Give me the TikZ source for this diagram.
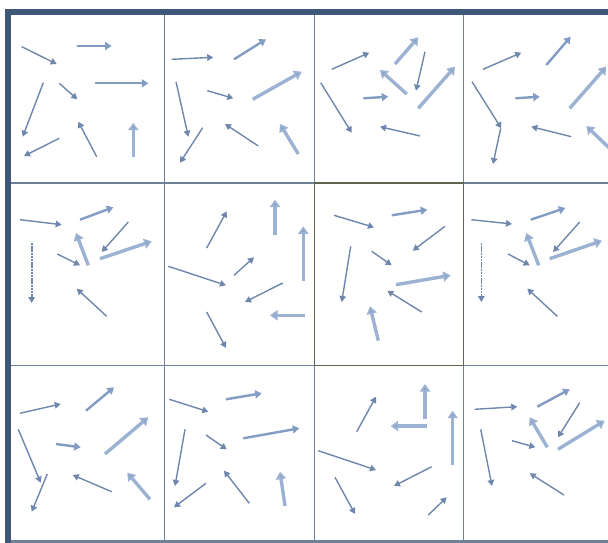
\documentclass[tikz,border=0pt]{standalone}
\usetikzlibrary{arrows.meta}
\definecolor{thincol}{HTML}{6F87AC}
\definecolor{medcol}{HTML}{829CC3}
\definecolor{thickcol}{HTML}{9CB2D2}
\definecolor{gridcol}{HTML}{6E8196}
\definecolor{framecol}{HTML}{3F5878}
\definecolor{centercol}{HTML}{5E6650}
\tikzset{
  thinarr/.style={draw=thincol, line width=1.4pt, -{Triangle[length=6pt,width=6.5pt]}},
  medarr/.style={draw=medcol, line width=2.4pt, -{Triangle[length=6.5pt,width=8pt]}},
  thickarr/.style={draw=thickcol, line width=3.4pt, -{Triangle[length=7.5pt,width=10pt,fill=medcol]}},
  dotarr/.style={thinarr, line width=1.6pt, dash pattern=on 2.4pt off 0.8pt},
  gridline/.style={draw=gridcol, line width=1.9pt},
  frameline/.style={draw=framecol, line width=6pt},
}
\begin{document}
\begin{tikzpicture}[x=1pt,y=-1pt]
\useasboundingbox (0,0) rectangle (608,543);
\fill[white] (0,0) rectangle (608,543);
% grid
\draw[gridline] (164.5,12) -- (164.5,541);
\draw[gridline] (314.5,12) -- (314.5,541);
\draw[gridline] (463.5,12) -- (463.5,541);
\draw[gridline] (8,183) -- (608,183);
\draw[gridline] (8,365.5) -- (608,365.5);
\draw[draw=gridcol, line width=3pt] (8,541) -- (608,541);
\draw[draw=centercol, line width=1.6pt] (314.5,183) rectangle (463.5,365.5);
\draw[frameline] (8,543) -- (8,12) -- (608,12);
% cell 1
\draw[thinarr] (21.7,46.7) -- (56.7,64);
\draw[medarr] (76.7,46) -- (111.7,46);
\draw[medarr] (95,83.3) -- (148.3,83.3);
\draw[thinarr] (59.3,83.3) -- (77.3,99.3);
\draw[thinarr] (43.3,82.7) -- (22.7,136.7);
\draw[thinarr] (59.3,138.3) -- (24,156);
\draw[thinarr] (96.7,156.7) -- (78.3,121.7);
\draw[thickarr] (133.3,156.7) -- (133.3,122.7);
% cell 2
\draw[thinarr] (171.7,59.3) -- (213.3,57.3);
\draw[medarr] (234,59.3) -- (266,39.3);
\draw[thickarr] (252.7,99.3) -- (301.7,71.7);
\draw[thinarr] (207.3,90.7) -- (233.3,98.3);
\draw[thinarr] (176,81.7) -- (188.3,136.7);
\draw[thinarr] (202.7,127.7) -- (180,162.7);
\draw[thinarr] (258.3,146) -- (225,124);
\draw[thickarr] (298.3,154) -- (280,124);
% cell 3
\draw[thinarr] (331.7,69.3) -- (369.3,52.7);
\draw[thickarr] (395,64) -- (418.3,37.3);
\draw[thinarr] (425,51.7) -- (416,90.7);
\draw[thickarr] (406.7,94) -- (380,70);
\draw[thickarr] (418.3,108.3) -- (455,66.7);
\draw[medarr] (363.3,98.3) -- (388.3,96.7);
\draw[thinarr] (320.7,82.7) -- (351.7,132.7);
\draw[thinarr] (420,136) -- (380,126.7);
% cell 4
\draw[thinarr] (483,69.3) -- (521.3,52.7);
\draw[medarr] (546.3,65) -- (570.7,36.7);
\draw[thickarr] (569.7,108.3) -- (606.3,66.7);
\draw[medarr] (515.3,98.3) -- (539.7,96.7);
\draw[thinarr] (472,81.7) -- (501.3,128.3);
\draw[thinarr] (500.7,128.3) -- (493,164);
\draw[thinarr] (571.3,136.7) -- (531.3,126.7);
\draw[thickarr] (610,148.7) -- (586.3,126);
% cell 5
\draw[thinarr] (20,219.7) -- (61.7,224.7);
\draw[medarr] (80,219.7) -- (113.3,207.3);
\draw[thinarr] (128.3,222) -- (101.7,252);
\draw[thickarr] (100,258.7) -- (151.7,241.3);
\draw[thickarr] (88.3,265.3) -- (76,233);
\draw[thinarr] (57.3,254) -- (80,265.3);
\draw[dotarr] (31.7,243) -- (31.7,303);
\draw[thinarr] (106.7,316.3) -- (76.7,288.7);
% cell 6
\draw[thinarr] (206.7,248) -- (226.7,211.3);
\draw[thickarr] (275,234.7) -- (275,199.7);
\draw[thickarr] (303.3,280.7) -- (303.3,226.3);
\draw[thinarr] (168.3,266.3) -- (226,285.3);
\draw[thinarr] (234,275.3) -- (254,257.3);
\draw[thinarr] (282.7,283) -- (245,302);
\draw[thickarr] (305,315.3) -- (270,315.3);
\draw[thinarr] (206.7,312) -- (226,348);
% cell 7
\draw[thinarr] (334,215.3) -- (374,227.3);
\draw[medarr] (391.7,215.3) -- (427.3,209.7);
\draw[thinarr] (445,226.3) -- (412.7,250.7);
\draw[thinarr] (371.7,251.3) -- (391.7,265.3);
\draw[thinarr] (350.7,246.3) -- (341.7,302);
\draw[thickarr] (396,284.7) -- (450.7,275.3);
\draw[thinarr] (421.7,312) -- (387.3,290.7);
\draw[thickarr] (378.3,340.7) -- (370,306.3);
% cell 8
\draw[thinarr] (471.3,219.7) -- (512,224);
\draw[medarr] (530.7,219.7) -- (565.3,208);
\draw[thinarr] (579.7,222) -- (553,252);
\draw[thickarr] (549.7,258.7) -- (602,240.7);
\draw[thickarr] (538.7,265.3) -- (526.3,233);
\draw[thinarr] (508,254) -- (529.7,265.3);
\draw[dotarr] (481.3,243) -- (481.3,302);
\draw[thinarr] (557.3,316.3) -- (527.3,288.7);
% cell 9
\draw[thinarr] (20,413.3) -- (60.7,404);
\draw[medarr] (86,410.7) -- (114,387.3);
\draw[thickarr] (105,454) -- (148.3,417.3);
\draw[medarr] (56,444) -- (80.7,447.3);
\draw[thinarr] (18.3,429.3) -- (40.7,482.7);
\draw[thinarr] (47.3,474) -- (31.7,511.7);
\draw[thinarr] (111.7,491.7) -- (72.7,475);
\draw[thickarr] (150,499.3) -- (127.3,472.7);
% cell 10
\draw[thinarr] (169.3,399.3) -- (208.3,411.7);
\draw[medarr] (226,399.3) -- (261.7,393.3);
\draw[medarr] (243.3,438.3) -- (299.3,428.3);
\draw[thinarr] (206,435) -- (226.7,449.3);
\draw[thinarr] (185,429.3) -- (175,486);
\draw[thinarr] (206,483.3) -- (174,507.3);
\draw[thinarr] (249.3,503.3) -- (224,470.7);
\draw[thickarr] (285,506) -- (280,471.7);
% cell 11
\draw[thinarr] (356.7,431.7) -- (376,396.7);
\draw[thickarr] (425,419.3) -- (425,384);
\draw[thickarr] (452.7,465) -- (452.7,410.7);
\draw[thickarr] (427.3,426) -- (390.7,426);
\draw[thinarr] (318.3,450.7) -- (376,470);
\draw[thinarr] (431.7,466.7) -- (394,486);
\draw[thinarr] (335,477.3) -- (355,514);
\draw[thinarr] (428.3,515) -- (446.7,497.3);
% cell 12
\draw[thinarr] (474.7,409.3) -- (517.3,406.7);
\draw[medarr] (537.3,406.7) -- (569.7,389.3);
\draw[thinarr] (579.7,402.7) -- (558,437.3);
\draw[thickarr] (558,449.3) -- (604.7,420.7);
\draw[thickarr] (547.3,447.3) -- (529.7,417.3);
\draw[thinarr] (512,440.7) -- (535.3,447.3);
\draw[thinarr] (480.7,429.3) -- (492,486);
\draw[thinarr] (564,495) -- (529.7,473.3);
\end{tikzpicture}
\end{document}
